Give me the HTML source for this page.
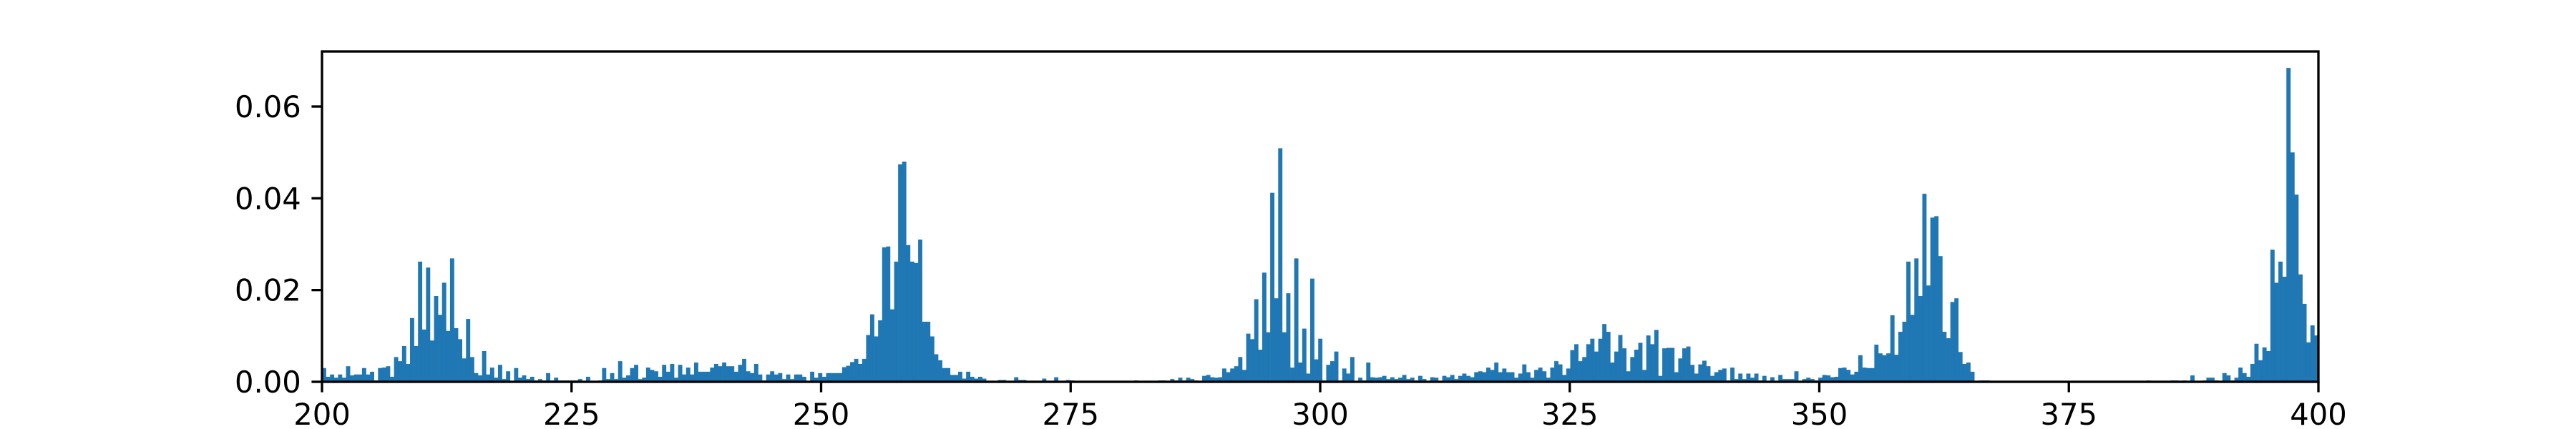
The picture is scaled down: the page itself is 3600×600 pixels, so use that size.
<!DOCTYPE html>
<html><head><meta charset="utf-8"><style>
html,body{margin:0;padding:0;background:#fff;}
svg{display:block;}
text{font-family:"DejaVu Sans","Liberation Sans",sans-serif;font-size:41.7px;fill:#000;}
</style></head><body>
<svg id="chart" width="3600" height="600" viewBox="0 0 3600 600" xmlns="http://www.w3.org/2000/svg">
<rect x="0" y="0" width="3600" height="600" fill="#fff"/>
<g id="bars"></g>
<g id="axes"></g>
</svg>
<script>
const densities = [
0.0030,0.0011,0.0016,0.0009,0.0016,0.0009,0.0034,0.0014,0.0016,0.0016,0.003,0.0016,0.0022,0.0003,0.003,0.0031,0.0034,0.0011,0.0054,0.0045,0.0078,0.0039,0.0139,0.0078,0.0262,0.0114,0.0249,0.009,0.0187,0.0146,0.0216,0.0111,0.0269,0.0117,0.0093,0.0051,0.0137,0.0054,0.0019,0.0014,0.0067,0.0016,0.0031,0.0009,0.0037,0.0006,0.0023,0.0002,0.003,0.0009,0.0014,0.0006,0.0011,0.0003,0.0006,0.0003,0.0019,0.0003,0.0009,0.0003,0.0003,0.0003,0.0003,
0.0003,0.0006,0.0002,0.0011,0.0001,0.0001,0.0003,0.003,0.0006,0.0019,0.0006,0.0045,0.0009,0.0014,0.003,0.0037,0.0006,0.0009,0.0031,0.0026,0.0023,0.0011,0.0037,0.0022,0.0039,0.0009,0.0037,0.0016,0.0031,0.0016,0.0042,0.0022,0.0022,0.0022,0.0031,0.0039,0.0034,0.0042,0.0034,0.0034,0.0022,0.0037,0.005,0.0023,0.0019,0.0039,0.0016,0.0003,0.0016,0.0023,0.0016,0.0019,0.0006,0.0016,0.0006,0.0016,0.0016,0.0011,0,0.0022,0.0009,0.0019,0.0011,
0.0019,0.0019,0.0019,0.0019,0.0032,0.0035,0.0043,0.005,0.0039,0.005,0.0102,0.0147,0.0099,0.0134,0.0293,0.0295,0.0158,0.0262,0.0474,0.048,0.0298,0.0262,0.0259,0.031,0.0131,0.0131,0.0099,0.006,0.0047,0.003,0.003,0.0015,0.0015,0.0022,0.0007,0.0022,0.0011,0.0007,0.0011,0.0007,0,0.0002,0.0002,0.0004,0.0004,0,0.0002,0.001,0.0004,0.0004,0.0002,0,0,0,0.0007,0.0002,0,0.001,0,0.0002,0.0004,
0.0003,0,0,0.0001,0,0.0001,0.0001,0,0,0,0.0001,0,0,0.0001,0,0.0001,0.0003,0,0,0.0001,0,0.0001,0.0003,0.0003,0.0001,0.0006,0.0003,0.0009,0.0003,0.0009,0.0006,0.0003,0.0001,0.0013,0.0015,0.001,0.0009,0.001,0.0029,0.0021,0.0029,0.0034,0.0054,0.0026,0.0105,0.0093,0.018,0.007,0.0238,0.0108,0.0412,0.0182,0.0509,0.0108,0.0193,0.0031,0.0269,0.0042,0.0116,0.0018,0.0225,0.0049,0.0094,
0.0003,0.0037,0.0045,0.0066,0.0003,0.0029,0.0018,0.0054,0.0001,0.0009,0.0003,0.0042,0.001,0.0009,0.001,0.0013,0.0006,0.001,0.0006,0.0009,0.0015,0.0006,0.0009,0.0003,0.0013,0.0006,0.0001,0.001,0.0009,0.0001,0.0013,0.001,0.0015,0.0006,0.0013,0.0018,0.0013,0.001,0.0021,0.0023,0.0021,0.0031,0.0026,0.0042,0.0021,0.0029,0.0021,0.0021,0.0009,0.0018,0.0038,0.0021,0.0009,0.0026,0.0031,0.0023,0.0009,0.0031,0.0045,0.0038,0.0015,0.0029,0.0069,
0.0082,0.0045,0.0054,0.0082,0.0094,0.0066,0.0094,0.0126,0.0109,0.0042,0.0066,0.0102,0.0073,0.0023,0.0054,0.007,0.0085,0.0026,0.0101,0.0082,0.0113,0.0013,0.0073,0.0074,0.0074,0.0021,0.0051,0.0073,0.0077,0.0037,0.0018,0.0038,0.0046,0.0034,0.0013,0.0021,0.0026,0.0029,0.0003,0.0031,0.0006,0.0018,0.0006,0.0018,0.0009,0.0018,0.0003,0.0013,0.0001,0.001,0.0001,0.0015,0.0006,0.0006,0.0006,0.0023,0.0001,0.0006,0.0009,0.0006,0.0003,0.0009,0.0015,
0.0014,0.001,0.0011,0.003,0.0031,0.0026,0.0016,0.0022,0.0058,0.0031,0.003,0.003,0.0081,0.0062,0.0058,0.0062,0.0145,0.0059,0.0109,0.0131,0.0262,0.0146,0.0269,0.0187,0.041,0.021,0.0358,0.0361,0.0274,0.0109,0.0095,0.0174,0.0182,0.0065,0.0039,0.0042,0.0022,0.0002,0.0003,0.0003,0.0003,0,0,0.0002,0,0.0002,0.0002,0,0,0,0.0002,0.0002,0,0.0002,0,0,0,0.0002,0,0.0002,0.0002,0,0,
0.0002,0.0002,0,0.0002,0.0002,0,0,0,0,0.0002,0,0.0002,0,0,0,0,0.0002,0.0003,0,0,0,0,0.0002,0.0003,0.0003,0,0.0003,0.0002,0.0014,0,0.0002,0.0003,0.0009,0.0009,0.0003,0.0002,0.0019,0.0014,0.0003,0.0009,0.0031,0.0019,0.0011,0.0039,0.0083,0.0047,0.0075,0.0067,0.0288,0.0216,0.0262,0.0229,0.0684,0.05,0.0408,0.0234,0.017,0.0086,0.0123,0.0101
];
const xRange = [200, 400];
const yRange = [0, 0.072];
const xTicks = [200, 225, 250, 275, 300, 325, 350, 375, 400];
const yTicks = [0.00, 0.02, 0.04, 0.06];
const yTickLabels = ["0.00", "0.02", "0.04", "0.06"];

const L = 450, R = 3240, T = 72, B = 534;
const NS = "http://www.w3.org/2000/svg";
function sx(v){ return L + (v - xRange[0]) / (xRange[1] - xRange[0]) * (R - L); }
function sy(v){ return B - (v - yRange[0]) / (yRange[1] - yRange[0]) * (B - T); }

const barsG = document.getElementById('bars');
const n = densities.length;
const bw = (xRange[1] - xRange[0]) / n;
for (let i = 0; i < n; i++) {
  const v = densities[i];
  if (v <= 0) continue;
  const x0 = sx(xRange[0] + i * bw), x1 = sx(xRange[0] + (i + 1) * bw);
  const r = document.createElementNS(NS, 'rect');
  r.setAttribute('x', x0);
  r.setAttribute('y', sy(v));
  r.setAttribute('width', x1 - x0 + 0.3);
  r.setAttribute('height', B - sy(v));
  r.setAttribute('fill', '#1f77b4');
  
  
  barsG.appendChild(r);
}

const ax = document.getElementById('axes');
const frame = document.createElementNS(NS, 'rect');
frame.setAttribute('x', L); frame.setAttribute('y', T);
frame.setAttribute('width', R - L); frame.setAttribute('height', B - T);
frame.setAttribute('fill', 'none'); frame.setAttribute('stroke', '#000');
frame.setAttribute('stroke-width', '3.33');


ax.appendChild(frame);

xTicks.forEach(function(t){
  const x = sx(t);
  const ln = document.createElementNS(NS, 'line');
  ln.setAttribute('x1', x); ln.setAttribute('x2', x);
  ln.setAttribute('y1', B); ln.setAttribute('y2', B + 14.6);
  ln.setAttribute('stroke', '#000'); ln.setAttribute('stroke-width', '3.33');
  
  
  ax.appendChild(ln);
  const tx = document.createElementNS(NS, 'text');
  tx.setAttribute('x', x); tx.setAttribute('y', B + 14.6 + 14.6 + 31);
  tx.setAttribute('text-anchor', 'middle');
  tx.textContent = String(t);
  
  
  ax.appendChild(tx);
});

yTicks.forEach(function(t, i){
  const y = sy(t);
  const ln = document.createElementNS(NS, 'line');
  ln.setAttribute('x1', L - 14.6); ln.setAttribute('x2', L);
  ln.setAttribute('y1', y); ln.setAttribute('y2', y);
  ln.setAttribute('stroke', '#000'); ln.setAttribute('stroke-width', '3.33');
  
  
  ax.appendChild(ln);
  const tx = document.createElementNS(NS, 'text');
  tx.setAttribute('x', L - 14.6 - 14.6); tx.setAttribute('y', y + 15);
  tx.setAttribute('text-anchor', 'end');
  tx.textContent = yTickLabels[i];
  
  
  ax.appendChild(tx);
});
</script>
</body></html>
